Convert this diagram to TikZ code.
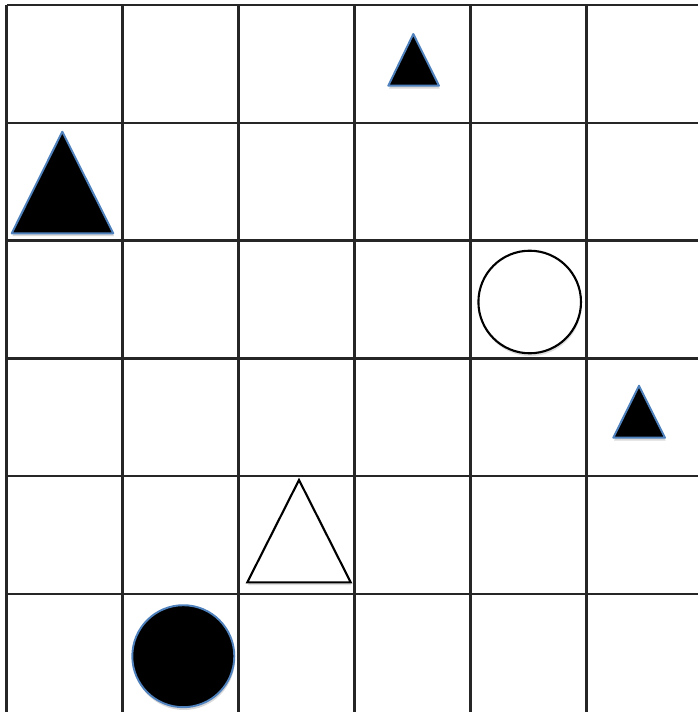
\documentclass[tikz,border=0pt]{standalone}
\usetikzlibrary{shadows}
\definecolor{edgeblue}{RGB}{79,129,189}
\tikzset{
	gridline/.style={
		line width=1.3pt,
		black!85
	},
	solidshape/.style={
		fill=black,
		draw=edgeblue,
		line width=1.1pt,
		line join=round,
		drop shadow={opacity=0.3,shadow xshift=0.4pt,shadow yshift=-1.6pt}
	},
	openshape/.style={
		fill=white,
		draw=black,
		line width=1.2pt,
		line join=miter,
		drop shadow={opacity=0.25,shadow xshift=0.4pt,shadow yshift=-1.6pt}
	}
}
\begin{document}
\begin{tikzpicture}[x=0.02cm,y=-0.02cm]
	\useasboundingbox (0,0) rectangle (698,712);
	
	% Grid
	\foreach \i in {0,...,5}{
		\draw[gridline] ({6.5+116*\i},5) -- ({6.5+116*\i},712);
		\draw[gridline] (6.5,{5+117.8*\i}) -- (698,{5+117.8*\i});
	}
	
	% Black triangles
	\draw[solidshape] (11.7,233.3) -- (62.3,131.7) -- (113.3,233.3) -- cycle;
	\draw[solidshape] (388.3,85.7) -- (413.3,34) -- (439,85.7) -- cycle;
	\draw[solidshape] (613.3,437.7) -- (639,385.7) -- (665,437.7) -- cycle;
	
	% White triangle
	\draw[openshape] (247.3,582.3) -- (299,480) -- (350.7,582.3) -- cycle;
	
	% Circles
	\draw[openshape] (529.7,302) circle[radius=1.026cm];
	\draw[solidshape] (183.3,656.2) circle[radius=1.02cm];
	
\end{tikzpicture}
\end{document}
